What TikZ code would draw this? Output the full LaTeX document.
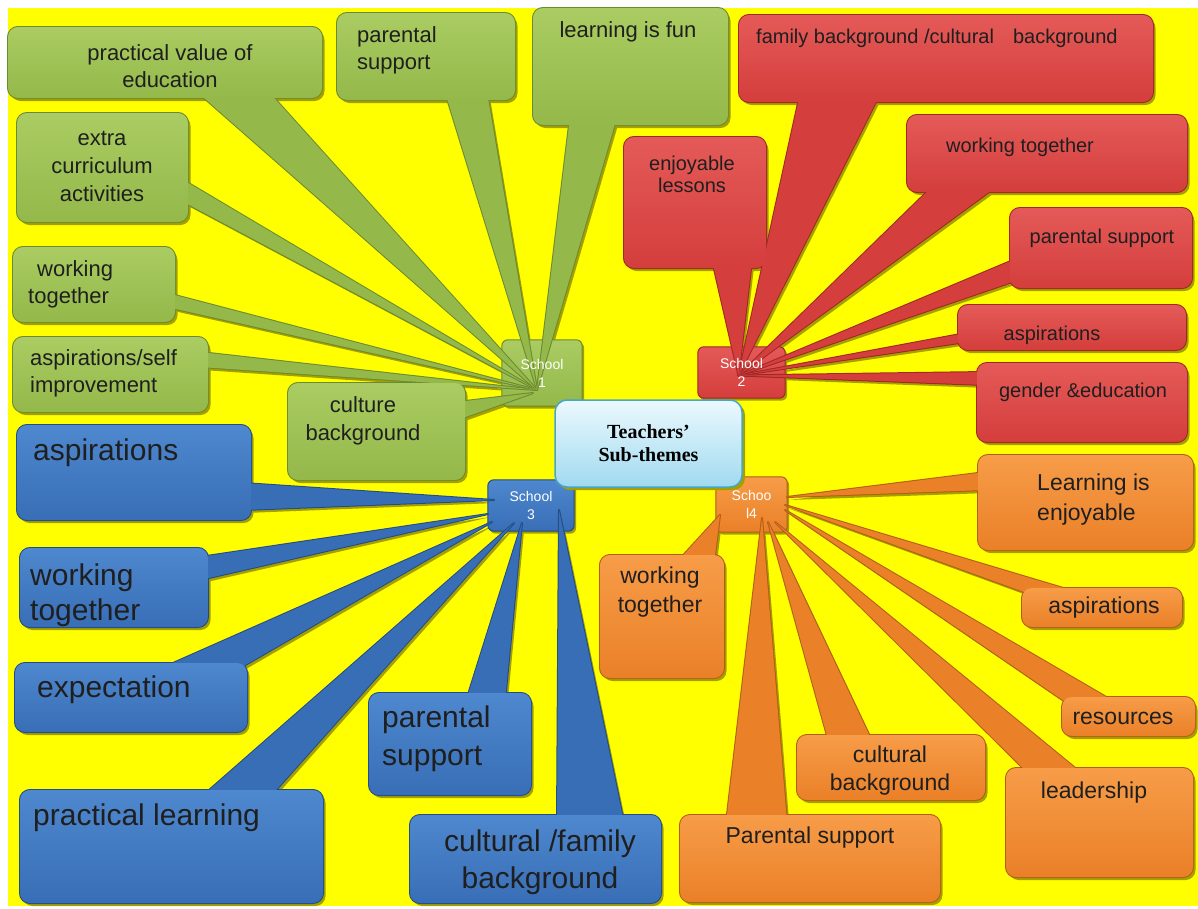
\documentclass[tikz,border=0pt]{standalone}
\usepackage{fontspec}
\setmainfont{Liberation Sans}
\newfontfamily\titlefont{Liberation Serif}
\usetikzlibrary{calc,fit}

\pgfdeclarelayer{bg}
\pgfdeclarelayer{shade}
\pgfdeclarelayer{schools}
\pgfdeclarelayer{edge}
\pgfdeclarelayer{body}
\pgfdeclarelayer{top}
\pgfsetlayers{bg,shade,schools,edge,body,main,top}

\definecolor{paper}{RGB}{255,255,0}
\definecolor{shadowc}{RGB}{165,160,0}
\definecolor{grn}{RGB}{148,184,74}
\definecolor{grntop}{RGB}{170,204,98}
\definecolor{grnedge}{RGB}{108,138,48}
\definecolor{rd}{RGB}{212,62,60}
\definecolor{rdtop}{RGB}{228,90,88}
\definecolor{rdedge}{RGB}{158,40,38}
\definecolor{bl}{RGB}{56,110,182}
\definecolor{bltop}{RGB}{78,136,206}
\definecolor{bledge}{RGB}{36,76,132}
\definecolor{org}{RGB}{234,128,40}
\definecolor{orgtop}{RGB}{247,156,72}
\definecolor{orgedge}{RGB}{178,94,24}
\definecolor{hubtop}{RGB}{236,249,253}
\definecolor{hubbot}{RGB}{160,218,240}
\definecolor{hubedge}{RGB}{70,166,200}

\newcommand\fsz[2]{\fontsize{#1}{#2}\selectfont}

% callout body: rounded box #1 plus a wedge from base points #3,#4 to tip #5
\newcommand\callshape[5]{%
  \begin{pgfonlayer}{shade}
    \begin{scope}[transform canvas={xshift=2.5pt,yshift=-3pt}]
      \fill[shadowc, rounded corners=10pt] (#1.north west) rectangle (#1.south east);
      \fill[shadowc] #3 -- #5 -- #4 -- cycle;
    \end{scope}
  \end{pgfonlayer}
  \begin{pgfonlayer}{edge}
    \draw[#2edge, line width=2pt, rounded corners=10pt] (#1.north west) rectangle (#1.south east);
    \draw[#2edge, line width=2pt, line join=round] #3 -- #5 -- #4 -- cycle;
  \end{pgfonlayer}
  \begin{pgfonlayer}{body}
    \fill[#2] #3 -- #5 -- #4 -- cycle;
    \shade[top color=#2top, bottom color=#2, rounded corners=10pt] (#1.north west) rectangle (#1.south east);
  \end{pgfonlayer}%
}

% small school box behind its label
\newcommand\schoolbox[2]{%
  \begin{pgfonlayer}{shade}
    \begin{scope}[transform canvas={xshift=2pt,yshift=-2.5pt}]
      \fill[shadowc, rounded corners=6pt] (#1.north west) rectangle (#1.south east);
    \end{scope}
  \end{pgfonlayer}
  \begin{pgfonlayer}{schools}
    \shade[top color=#2top, bottom color=#2, draw=#2edge, line width=1pt, rounded corners=6pt]
      (#1.north west) rectangle (#1.south east);
  \end{pgfonlayer}%
}

\tikzset{
  area/.style={inner sep=0pt, outer sep=0pt},
  ctext/.style={text=black!88, inner sep=0pt},
  gt/.style={ctext, font=\fsz{22}{27}},
  rt/.style={ctext, font=\fsz{20}{22}},
  bt/.style={ctext, font=\fsz{30}{36}},
  ot/.style={ctext, font=\fsz{23}{29}},
  school/.style={text=white, align=center, inner sep=0pt, font=\fsz{14}{18}},
}

\begin{document}
\begin{tikzpicture}[x=1pt, y=-1pt]
\useasboundingbox (0,0) rectangle (1198,908);
\begin{pgfonlayer}{bg}
  \fill[white] (0,0) rectangle (1198,908);
  \fill[paper] (8,8) rectangle (1198,906);
\end{pgfonlayer}

% ---------- school hubs ----------
\node[school, minimum width=80pt, minimum height=66pt] (s1) at (542,373) {School\\1};
\node[school, minimum width=87pt, minimum height=51pt] (s2) at (741.5,372.5) {School\\2};
\node[school, minimum width=86pt, minimum height=51pt] (s3) at (531,505.5) {School\\3};
\node[school, minimum width=71pt, minimum height=55pt] (s4) at (751.5,504.5) {Schoo\\l4};
\schoolbox{s1}{grn}
\schoolbox{s2}{rd}
\schoolbox{s3}{bl}
\schoolbox{s4}{org}

% ---------- School 1 (green) ----------
\node[area, fit={(8,27) (322,98)}] (g1) {};
\node[area, fit={(337,13) (515,100)}] (g2) {};
\node[area, fit={(533,8) (728,125)}] (g3) {};
\node[area, fit={(17,113) (188,222)}] (g4) {};
\node[area, fit={(13,247) (175,322)}] (g5) {};
\node[area, fit={(13,337) (208,412)}] (g6) {};
\node[area, fit={(288,383) (465,480)}] (g7) {};
\callshape{g1}{grn}{($(g1.south west)+(187,-8)$)}{($(g1.south west)+(259,-8)$)}{($(s1)+(-5,17)$)}
\callshape{g2}{grn}{($(g2.south west)+(108,-8)$)}{($(g2.south west)+(150,-8)$)}{($(s1)+(-5,17)$)}
\callshape{g3}{grn}{($(g3.south west)+(37,-8)$)}{($(g3.south west)+(84,-8)$)}{($(s1)+(-5,17)$)}
\callshape{g4}{grn}{($(g4.north east)+(-8,65)$)}{($(g4.north east)+(-8,87)$)}{($(s1)+(-5,17)$)}
\callshape{g5}{grn}{($(g5.north east)+(-8,46)$)}{($(g5.north east)+(-8,60)$)}{($(s1)+(-5,17)$)}
\callshape{g6}{grn}{($(g6.north east)+(-8,15)$)}{($(g6.north east)+(-8,30)$)}{($(s1)+(-5,17)$)}
\callshape{g7}{grn}{($(g7.north east)+(-8,19)$)}{($(g7.north east)+(-8,37)$)}{($(s1)+(-9,20)$)}
\node[gt, align=center] (g1t) at (170,66) {practical value of\\education};
\node[gt, align=left, anchor=west] (g2t) at (357,50) {parental\\support};
\node[gt] (g3t) at (628,32) {learning is fun};
\node[gt, align=center, font=\fsz{22}{28}] (g4t) at (102,166) {extra\\curriculum\\activities};
\node[gt, align=left, anchor=west] (g5t) at (28,284) {\hspace*{9pt}working\\together};
\node[gt, align=left, anchor=west] (g6t) at (30,373) {aspirations/self\\improvement};
\node[gt, align=center, font=\fsz{22}{28}] (g7t) at (363,421) {culture\\background};

% ---------- School 2 (red) ----------
\node[area, fit={(739,15) (1153,102)}] (r1) {};
\node[area, fit={(624,137) (766,268)}] (r2) {};
\node[area, fit={(907,115) (1187,192)}] (r3) {};
\node[area, fit={(1010,208) (1192,288)}] (r4) {};
\node[area, fit={(958,305) (1186,350)}] (r5) {};
\node[area, fit={(977,363) (1187,442)}] (r6) {};
\callshape{r1}{rd}{($(r1.south west)+(61,-8)$)}{($(r1.south west)+(141,-8)$)}{($(s2)+(-3,3)$)}
\callshape{r2}{rd}{($(r2.south west)+(88,-8)$)}{($(r2.south west)+(128,-8)$)}{($(s2)+(-3,3)$)}
\callshape{r3}{rd}{($(r3.south west)+(28,-8)$)}{($(r3.south west)+(93,-8)$)}{($(s2)+(-3,3)$)}
\callshape{r4}{rd}{($(r4.north west)+(8,50)$)}{($(r4.north west)+(8,72)$)}{($(s2)+(-3,3)$)}
\callshape{r5}{rd}{($(r5.north west)+(8,28)$)}{($(r5.north west)+(8,37)$)}{($(s2)+(-3,3)$)}
\callshape{r6}{rd}{($(r6.north west)+(8,9)$)}{($(r6.north west)+(8,22)$)}{($(s2)+(-3,3)$)}
\node[rt, anchor=west] (r1t) at (756,38) {family background /cultural\hspace{19pt}background};
\node[rt, align=center] (r2t) at (692,174) {enjoyable\\lessons};
\node[rt] (r3t) at (1020,147) {working together};
\node[rt] (r4t) at (1102,238) {parental support};
\node[rt] (r5t) at (1052,335) {aspirations};
\node[rt] (r6t) at (1083,392) {gender \&education};

% ---------- School 3 (blue) ----------
\node[area, fit={(17,425) (251,520)}] (b1) {};
\node[area, fit={(20,548) (208,627)}] (b2) {};
\node[area, fit={(15,663) (247,732)}] (b3) {};
\node[area, fit={(20,790) (323,903)}] (b4) {};
\node[area, fit={(369,693) (531,795)}] (b5) {};
\node[area, fit={(410,815) (661,903)}] (b6) {};
\callshape{b1}{bl}{($(b1.north east)+(-8,58)$)}{($(b1.north east)+(-8,85)$)}{($(s3)+(-37,-5.5)$)}
\callshape{b2}{bl}{($(b2.north east)+(-8,9)$)}{($(b2.north east)+(-8,32)$)}{($(s3)+(-43,8.5)$)}
\callshape{b3}{bl}{($(b3.north west)+(140,8)$)}{($(b3.north west)+(220,8)$)}{($(s3)+(-39,16.5)$)}
\callshape{b4}{bl}{($(b4.north west)+(180,8)$)}{($(b4.north west)+(249,8)$)}{($(s3)+(-17,17.5)$)}
\callshape{b5}{bl}{($(b5.north west)+(97,8)$)}{($(b5.north west)+(136,8)$)}{($(s3)+(-9,17.5)$)}
\callshape{b6}{bl}{($(b6.north west)+(147,8)$)}{($(b6.north west)+(214,8)$)}{($(s3)+(28,4.5)$)}
\node[bt, anchor=west] (b1t) at (33,453) {aspirations};
\node[bt, align=left, anchor=west, font=\fsz{30}{35}] (b2t) at (30,595) {working\\together};
\node[bt, anchor=west] (b3t) at (37,690) {expectation};
\node[bt, anchor=west] (b4t) at (33,818) {practical learning};
\node[bt, align=left, anchor=west, font=\fsz{30}{38}] (b5t) at (382,739) {parental\\support};
\node[bt, align=center, font=\fsz{30}{37}] (b6t) at (540,862) {cultural /family\\background};

% ---------- School 4 (orange) ----------
\node[area, fit={(978,455) (1193,550)}] (o1) {};
\node[area, fit={(600,555) (724,678)}] (o2) {};
\node[area, fit={(1022,588) (1182,627)}] (o3) {};
\node[area, fit={(1062,697) (1195,736)}] (o4) {};
\node[area, fit={(797,735) (985,800)}] (o5) {};
\node[area, fit={(1006,768) (1193,877)}] (o6) {};
\node[area, fit={(680,815) (940,902)}] (o7) {};
\callshape{o1}{org}{($(o1.north west)+(8,17)$)}{($(o1.north west)+(8,35)$)}{($(s4)+(35.5,-7.5)$)}
\callshape{o2}{org}{($(o2.north west)+(76,8)$)}{($(o2.north west)+(114,8)$)}{($(s4)+(-31.5,10.5)$)}
\callshape{o3}{org}{($(o3.north west)+(13,8)$)}{($(o3.north west)+(68,8)$)}{($(s4)+(33.5,0.5)$)}
\callshape{o4}{org}{($(o4.north west)+(8,8)$)}{($(o4.north west)+(58,8)$)}{($(s4)+(33.5,5.5)$)}
\callshape{o5}{org}{($(o5.north west)+(32,8)$)}{($(o5.north west)+(76,8)$)}{($(s4)+(16.5,17.5)$)}
\callshape{o6}{org}{($(o6.north west)+(25,8)$)}{($(o6.north west)+(79,8)$)}{($(s4)+(23.5,17.5)$)}
\callshape{o7}{org}{($(o7.north west)+(46,8)$)}{($(o7.north west)+(107,8)$)}{($(s4)+(10.5,13.5)$)}
\node[ot, align=left, anchor=west, font=\fsz{23}{30}] (o1t) at (1037,500) {Learning is\\enjoyable};
\node[ot, align=center] (o2t) at (660,592) {working\\together};
\node[ot] (o3t) at (1104,608) {aspirations};
\node[ot] (o4t) at (1123,718) {resources};
\node[ot, align=center, font=\fsz{23}{28}] (o5t) at (890,771) {cultural\\background};
\node[ot] (o6t) at (1094,793) {leadership};
\node[ot] (o7t) at (810,838) {Parental support};

% ---------- central theme ----------
\begin{pgfonlayer}{top}
  \fill[shadowc, rounded corners=12pt] (558,403) rectangle (745,490);
  \node[draw=hubedge, line width=1.5pt, rounded corners=12pt,
        top color=hubtop, bottom color=hubbot,
        minimum width=187pt, minimum height=87pt, inner sep=0pt,
        align=center, font=\titlefont\bfseries\fsz{20}{23}] (tc) at (648.5,443.5)
        {Teachers’\\Sub-themes};
\end{pgfonlayer}
\end{tikzpicture}
\end{document}
